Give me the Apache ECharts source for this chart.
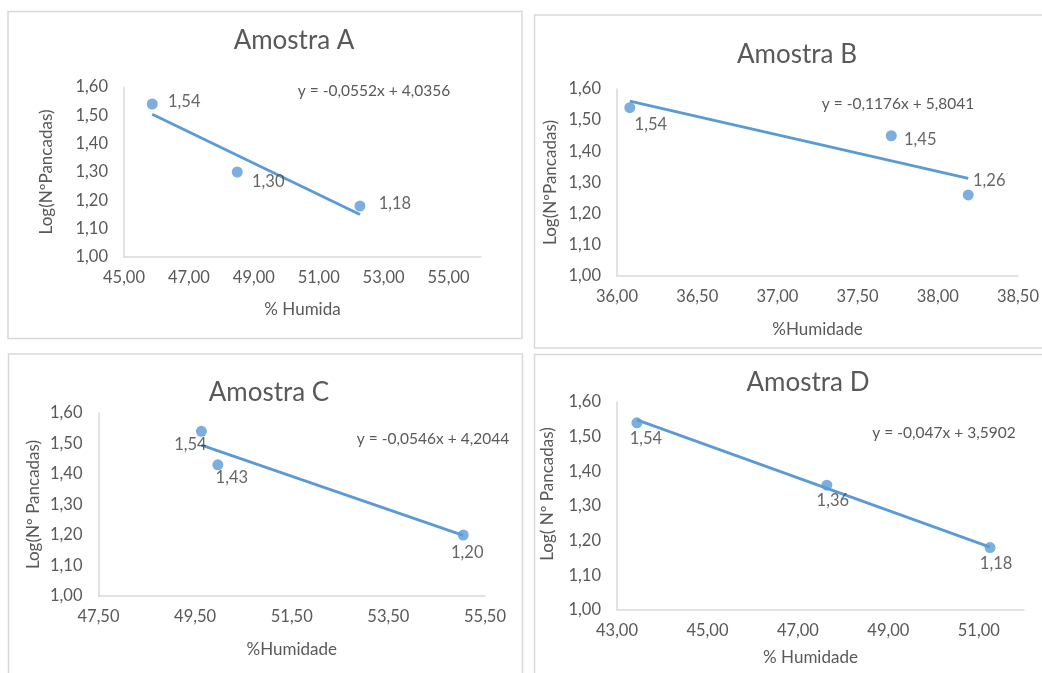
<!DOCTYPE html>
<html>
<head>
<meta charset="utf-8">
<script src="https://cdn.jsdelivr.net/npm/echarts@6/dist/echarts.min.js"></script>
<style>
  html, body { margin: 0; padding: 0; background: #ffffff; }
  #chart { width: 1042px; height: 673px; }
</style>
</head>
<body>
<div id="chart"></div>
<script>
// Moisture content (%) against log of blow count for four soil samples
const titles = ['Amostra A', 'Amostra B', 'Amostra C', 'Amostra D'];
const xNames = ['% Humida', '%Humidade', '%Humidade', '% Humidade'];
const yNames = ['Log(NºPancadas)', 'Log(NºPancadas)', 'Log(Nº Pancadas)', 'Log( Nº Pancadas)'];

const humidadeA = [45.87, 48.49, 52.27];
const logPancadasA = [1.54, 1.30, 1.18];
const humidadeB = [36.08, 37.71, 38.19];
const logPancadasB = [1.54, 1.45, 1.26];
const humidadeC = [49.63, 49.97, 55.05];
const logPancadasC = [1.54, 1.43, 1.20];
const humidadeD = [43.44, 47.64, 51.25];
const logPancadasD = [1.54, 1.36, 1.18];

// Linear trendline coefficients (y = slope * x + intercept)
const slopes = [-0.0552, -0.1176, -0.0546, -0.047];
const intercepts = [4.0356, 5.8041, 4.2044, 3.5902];

// X axis ranges and steps
const xMins = [45, 36, 47.5, 43];
const xMaxs = [56, 38.5, 55.5, 52];
const xSteps = [2, 0.5, 2, 2];
const yMin = 1.0, yMax = 1.6, yStep = 0.1;

const xs = [humidadeA, humidadeB, humidadeC, humidadeD];
const ys = [logPancadasA, logPancadasB, logPancadasC, logPancadasD];

// Layout of each panel
const frames = [
  { x: 8, y: 11.5, w: 514, h: 327 },
  { x: 534.5, y: 15, w: 520, h: 333 },
  { x: 8.5, y: 354, w: 514, h: 330 },
  { x: 534.5, y: 354.5, w: 520, h: 330 }
];
const grids = [
  { left: 124, top: 87, width: 357, height: 170 },
  { left: 617, top: 89, width: 401, height: 187 },
  { left: 98.5, top: 413, width: 386.5, height: 183 },
  { left: 617, top: 402, width: 407, height: 208 }
];
const titlePos = [[289, 36], [792, 50], [264, 388], [803, 378]];
const eqPos = [[374, 91], [898, 104], [433, 439], [944, 433]];
const xNameGap = [53, 54, 54, 48];
const xNamePad = [[0, 0, 0, 0], [0, 0, 0, 0], [0, 0, 0, 0], [0, 20, 0, 0]];
const yNameGap = [77, 66, 65, 69];
const yNamePad = [[0, 0, 10, 0], [0, 0, 0, 0], [0, 0, 0, 0], [0, 0, 0, 24]];
const labelOffsets = [
  [[32, -2], [31, 10], [35, -2]],
  [[21, 17], [29, 4], [21, -14]],
  [[-11, 13], [14, 13], [4, 18]],
  [[9, 16], [6, 15], [6, 16]]
];
const showMaxX = [false, true, true, false];

const FONT = 'Lato, "Open Sans", sans-serif';
const TEXT = '#595959';
const BLUE = '#5B9BD5';
const fmt = (v, d) => v.toFixed(d).replace('.', ',');

const option = {
  backgroundColor: '#ffffff',
  animation: false,
  title: titles.map((t, i) => ({
    text: t,
    left: titlePos[i][0],
    top: titlePos[i][1],
    textAlign: 'center',
    textVerticalAlign: 'middle',
    textStyle: { fontFamily: FONT, fontSize: 26, fontWeight: 'normal', color: TEXT }
  })),
  grid: grids,
  xAxis: grids.map((g, i) => ({
    type: 'value',
    gridIndex: i,
    min: xMins[i],
    max: xMaxs[i],
    interval: xSteps[i],
    name: xNames[i],
    nameLocation: 'middle',
    nameGap: xNameGap[i],
    nameTextStyle: { fontFamily: FONT, fontSize: 17, color: TEXT, verticalAlign: 'middle', padding: xNamePad[i] },
    axisLine: { show: true, lineStyle: { color: '#d9d9d9', width: 1.5 } },
    axisTick: { show: false },
    splitLine: { show: false },
    axisLabel: {
      fontFamily: FONT, fontSize: 16.5, color: TEXT, margin: 12,
      showMaxLabel: showMaxX[i],
      formatter: v => fmt(v, 2)
    }
  })),
  yAxis: grids.map((g, i) => ({
    type: 'value',
    gridIndex: i,
    min: yMin,
    max: yMax,
    interval: yStep,
    name: yNames[i],
    nameLocation: 'middle',
    nameGap: yNameGap[i],
    nameRotate: 90,
    nameTextStyle: { fontFamily: FONT, fontSize: 17, color: TEXT, verticalAlign: 'middle', padding: yNamePad[i] },
    axisLine: { show: true, lineStyle: { color: '#d9d9d9', width: 1.5 } },
    axisTick: { show: false },
    splitLine: { show: false },
    axisLabel: {
      fontFamily: FONT, fontSize: 16.5, color: TEXT, margin: 16,
      formatter: v => fmt(v, 2)
    }
  })),
  series: [],
  graphic: []
};

for (let i = 0; i < 4; i++) {
  const x = xs[i], y = ys[i];
  const x0 = Math.min(...x), x1 = Math.max(...x);
  option.series.push({
    type: 'line',
    xAxisIndex: i,
    yAxisIndex: i,
    data: [[x0, slopes[i] * x0 + intercepts[i]], [x1, slopes[i] * x1 + intercepts[i]]],
    symbol: 'none',
    lineStyle: { color: BLUE, width: 2.75 },
    z: 2,
    silent: true
  });
  option.series.push({
    type: 'scatter',
    xAxisIndex: i,
    yAxisIndex: i,
    symbolSize: 11,
    itemStyle: { color: BLUE },
    z: 3,
    data: x.map((xv, k) => ({
      value: [xv, y[k]],
      label: {
        show: true,
        position: 'inside',
        offset: labelOffsets[i][k],
        formatter: fmt(y[k], 2),
        fontFamily: FONT, fontSize: 16.5, color: '#404040'
      }
    }))
  });
  const f = frames[i];
  option.graphic.push({
    type: 'rect',
    shape: { x: f.x, y: f.y, width: f.w, height: f.h },
    style: { fill: 'none', stroke: '#d9d9d9', lineWidth: 1.5 },
    z: -10,
    silent: true
  });
  option.graphic.push({
    type: 'text',
    x: eqPos[i][0],
    y: eqPos[i][1],
    style: {
      text: 'y = ' + fmt(slopes[i], String(slopes[i]).split('.')[1].length) + 'x + ' +
            fmt(intercepts[i], String(intercepts[i]).split('.')[1].length),
      fontFamily: FONT, fontSize: 15.5, fill: TEXT,
      textAlign: 'center', textVerticalAlign: 'middle'
    },
    z: 10
  });
}

const chart = echarts.init(document.getElementById('chart'), null, { renderer: 'canvas' });
chart.setOption(option);
</script>
</body>
</html>
